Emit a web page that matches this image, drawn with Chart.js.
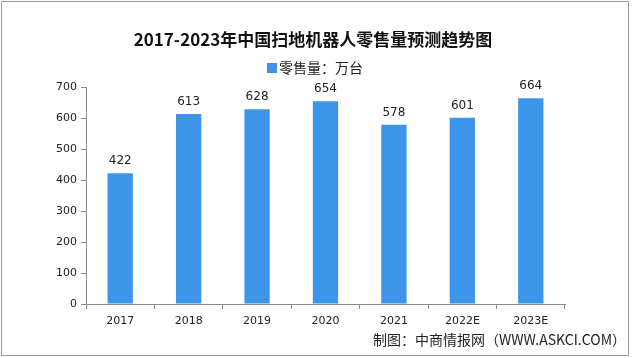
<!DOCTYPE html>
<html>
<head>
<meta charset="utf-8">
<script src="https://cdn.jsdelivr.net/npm/chart.js@4"></script>
<style>
  html, body { margin: 0; padding: 0; background: #fff; }
  #wrap { width: 640px; height: 358px; position: relative; }
</style>
</head>
<body>
<div id="wrap"><canvas id="mainChart" width="640" height="358"></canvas></div>
<script>
// ข้อมูลกราฟ
const years = ['2017', '2018', '2019', '2020', '2021', '2022E', '2023E'];
const retailVolume = [422, 613, 628, 654, 578, 601, 664];
const yTicks = [0, 100, 200, 300, 400, 500, 600, 700];

const titleText = '2017-2023年中国扫地机器人零售量预测趋势图';
const legendText = '零售量：万台';
const sourceText = '制图：中商情报网（WWW.ASKCI.COM）';

const barColor = '#3d95ea';
const cjkFont = '"Noto Sans CJK SC", "Noto Sans", sans-serif';

/* ===== ส่วนวาดหัวเรื่อง ตำนาน ป้ายค่า และกรอบ ===== */
const decorPlugin = {
    id: 'decor',
    beforeDraw(chart) {
        const ctx = chart.ctx;
        ctx.save();
        ctx.fillStyle = '#ffffff';
        ctx.fillRect(0, 0, chart.width, chart.height);
        ctx.restore();
    },
    afterDatasetsDraw(chart) {
        const ctx = chart.ctx;
        const meta = chart.getDatasetMeta(0);
        ctx.save();

        // ป้ายค่าบนแท่ง
        ctx.font = '12px "DejaVu Sans", sans-serif';
        ctx.fillStyle = '#222';
        ctx.textAlign = 'center';
        ctx.textBaseline = 'bottom';
        meta.data.forEach((bar, i) => {
            ctx.fillText(String(retailVolume[i]), bar.x, bar.y - 6);
        });

        // หัวเรื่อง
        ctx.font = 'bold 17px ' + cjkFont;
        ctx.fillStyle = '#111';
        ctx.textBaseline = 'middle';
        ctx.fillText(titleText, 313, 40);

        // ตำนาน
        ctx.font = '14px ' + cjkFont;
        ctx.textAlign = 'left';
        ctx.fillStyle = barColor;
        ctx.fillRect(267, 63, 10, 10);
        ctx.fillStyle = '#222';
        ctx.fillText(legendText, 279, 68);

        // แหล่งที่มา
        ctx.font = '14px ' + cjkFont;
        ctx.textAlign = 'right';
        ctx.fillStyle = '#222';
        ctx.fillText(sourceText, 626, 340);

        // กรอบรูป
        ctx.strokeStyle = '#9a9a9a';
        ctx.lineWidth = 1;
        ctx.strokeRect(1.5, 1.5, 627, 354);
        ctx.restore();
    }
};

new Chart(document.getElementById('mainChart'), {
    type: 'bar',
    data: {
        labels: years,
        datasets: [{
            label: legendText,
            data: retailVolume,
            backgroundColor: barColor,
            barPercentage: 0.74,
            categoryPercentage: 0.5
        }]
    },
    options: {
        responsive: false,
        animation: false,
        devicePixelRatio: 1,
        layout: { padding: { left: 0, right: 75, top: 87, bottom: 0 } },
        plugins: {
            legend: { display: false },
            title: { display: false },
            tooltip: { enabled: false }
        },
        scales: {
            x: {
                afterFit: (scale) => { scale.height = 54; },
                border: { color: '#8a8a8a', width: 1 },
                grid: { display: true, drawOnChartArea: false, offset: true, tickLength: 5, color: '#8a8a8a' },
                ticks: { color: '#222', padding: 6, font: { size: 11, family: '"DejaVu Sans", sans-serif' } }
            },
            y: {
                min: 0,
                max: 700,
                afterFit: (scale) => { scale.width = 86; },
                afterBuildTicks: (scale) => { scale.ticks = yTicks.map(v => ({ value: v })); },
                border: { color: '#8a8a8a', width: 1 },
                grid: { display: true, drawOnChartArea: false, tickLength: 5, color: '#8a8a8a' },
                ticks: { color: '#222', padding: 4, font: { size: 11, family: '"DejaVu Sans", sans-serif' } }
            }
        }
    },
    plugins: [decorPlugin]
});
</script>
</body>
</html>
